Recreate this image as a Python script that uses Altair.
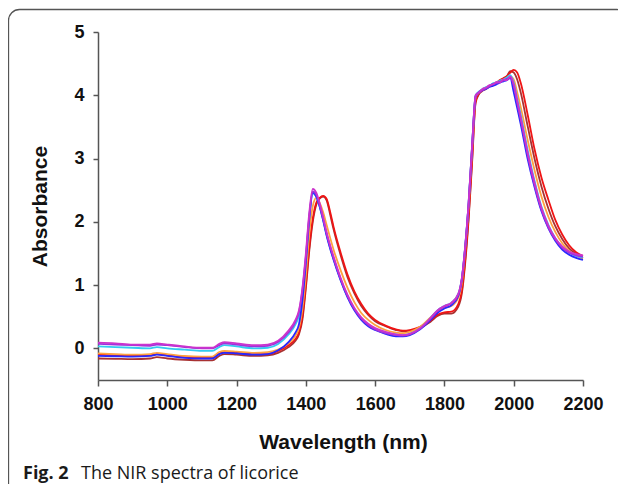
import altair as alt
import pandas as pd

# Wavelength grid (nm)
wavelength = [800, 850, 900, 950, 970, 1000, 1050, 1100, 1130, 1150,
              1165, 1200, 1250, 1290, 1320, 1350, 1370, 1380, 1390, 1400,
              1410, 1420, 1430, 1440, 1450, 1460, 1470, 1480, 1500, 1520,
              1540, 1560, 1580, 1600, 1630, 1660, 1680, 1700, 1730, 1760,
              1780, 1800, 1820, 1840, 1850, 1860, 1870, 1880, 1890, 1900,
              1910, 1920, 1930, 1940, 1950, 1960, 1970, 1980, 1990, 2000,
              2010, 2020, 2040, 2060, 2080, 2100, 2120, 2140, 2160, 2180,
              2200]

dark_red = [-0.16, -0.165, -0.17, -0.16, -0.14, -0.16, -0.18, -0.19, -0.19, -0.12,
            -0.09, -0.10, -0.12, -0.11, -0.07, 0.02, 0.12, 0.22, 0.45, 0.95,
            1.55, 2.00, 2.27, 2.37, 2.40, 2.34, 2.12, 1.88, 1.48, 1.13,
            0.87, 0.67, 0.53, 0.43, 0.35, 0.29, 0.27, 0.28, 0.33, 0.42,
            0.51, 0.55, 0.55, 0.66, 0.86, 1.35, 2.05, 2.95, 3.88, 4.02,
            4.07, 4.10, 4.14, 4.17, 4.19, 4.23, 4.26, 4.30, 4.38, 4.36,
            4.25, 4.05, 3.52, 3.00, 2.56, 2.21, 1.93, 1.73, 1.58, 1.49,
            1.43]

red = [-0.10, -0.11, -0.12, -0.11, -0.09, -0.11, -0.14, -0.15, -0.15, -0.08,
       -0.06, -0.07, -0.09, -0.09, -0.04, 0.05, 0.15, 0.25, 0.50, 1.00,
       1.60, 2.05, 2.30, 2.38, 2.41, 2.36, 2.16, 1.92, 1.52, 1.17,
       0.90, 0.70, 0.55, 0.45, 0.36, 0.30, 0.28, 0.29, 0.34, 0.44,
       0.53, 0.57, 0.58, 0.70, 0.90, 1.40, 2.10, 3.00, 3.90, 4.03,
       4.08, 4.11, 4.15, 4.18, 4.20, 4.24, 4.27, 4.30, 4.36, 4.40,
       4.36, 4.20, 3.70, 3.15, 2.70, 2.35, 2.03, 1.80, 1.63, 1.52,
       1.46]

orange = [-0.08, -0.09, -0.10, -0.09, -0.07, -0.09, -0.12, -0.13, -0.13, -0.06,
          -0.04, -0.05, -0.07, -0.06, -0.02, 0.08, 0.20, 0.32, 0.62, 1.15,
          1.82, 2.25, 2.38, 2.30, 2.15, 1.95, 1.75, 1.56, 1.24, 0.96,
          0.73, 0.56, 0.45, 0.37, 0.29, 0.25, 0.24, 0.26, 0.34, 0.49,
          0.59, 0.64, 0.67, 0.80, 1.02, 1.55, 2.25, 3.15, 3.96, 4.05,
          4.09, 4.12, 4.14, 4.17, 4.19, 4.22, 4.24, 4.27, 4.30, 4.25,
          4.05, 3.82, 3.30, 2.82, 2.40, 2.08, 1.84, 1.66, 1.54, 1.47,
          1.42]

cyan = [0.03, 0.02, 0.01, 0.00, 0.02, 0.00, -0.02, -0.04, -0.04, 0.02,
        0.05, 0.03, 0.00, 0.01, 0.07, 0.22, 0.38, 0.52, 0.88, 1.42,
        2.08, 2.45, 2.40, 2.24, 2.03, 1.79, 1.59, 1.41, 1.09, 0.82,
        0.62, 0.47, 0.37, 0.31, 0.25, 0.22, 0.21, 0.23, 0.32, 0.48,
        0.60, 0.67, 0.72, 0.86, 1.10, 1.62, 2.32, 3.22, 4.00, 4.06,
        4.10, 4.13, 4.15, 4.19, 4.20, 4.23, 4.25, 4.28, 4.32, 4.20,
        3.95, 3.70, 3.14, 2.65, 2.24, 1.95, 1.74, 1.60, 1.51, 1.46,
        1.44]

blue = [-0.12, -0.125, -0.13, -0.12, -0.10, -0.12, -0.15, -0.16, -0.16, -0.09,
        -0.07, -0.08, -0.10, -0.09, -0.03, 0.10, 0.25, 0.38, 0.75, 1.35,
        2.05, 2.46, 2.40, 2.24, 2.02, 1.78, 1.58, 1.40, 1.08, 0.81,
        0.60, 0.45, 0.35, 0.29, 0.23, 0.19, 0.19, 0.21, 0.30, 0.45,
        0.56, 0.63, 0.68, 0.83, 1.08, 1.60, 2.30, 3.20, 3.98, 4.05,
        4.08, 4.10, 4.13, 4.15, 4.17, 4.20, 4.22, 4.24, 4.27, 4.05,
        3.80, 3.55, 3.00, 2.55, 2.17, 1.90, 1.70, 1.56, 1.48, 1.43,
        1.40]

purple = [0.07, 0.06, 0.05, 0.04, 0.06, 0.05, 0.02, 0.00, 0.00, 0.05,
          0.08, 0.06, 0.03, 0.04, 0.10, 0.25, 0.42, 0.57, 0.92, 1.45,
          2.10, 2.48, 2.43, 2.26, 2.05, 1.81, 1.61, 1.43, 1.10, 0.83,
          0.62, 0.47, 0.37, 0.30, 0.24, 0.21, 0.20, 0.22, 0.31, 0.47,
          0.59, 0.66, 0.71, 0.85, 1.09, 1.60, 2.30, 3.20, 3.98, 4.04,
          4.08, 4.11, 4.14, 4.18, 4.19, 4.22, 4.23, 4.26, 4.28, 4.15,
          3.88, 3.62, 3.06, 2.58, 2.19, 1.91, 1.72, 1.59, 1.51, 1.47,
          1.45]

magenta = [0.09, 0.08, 0.06, 0.06, 0.08, 0.06, 0.03, 0.01, 0.01, 0.07,
           0.10, 0.08, 0.05, 0.06, 0.12, 0.28, 0.45, 0.60, 0.95, 1.50,
           2.15, 2.52, 2.46, 2.29, 2.07, 1.83, 1.63, 1.45, 1.12, 0.85,
           0.64, 0.49, 0.39, 0.32, 0.26, 0.22, 0.21, 0.23, 0.32, 0.48,
           0.60, 0.67, 0.72, 0.86, 1.10, 1.62, 2.32, 3.22, 4.00, 4.05,
           4.10, 4.12, 4.16, 4.17, 4.21, 4.20, 4.25, 4.24, 4.30, 4.18,
           3.92, 3.66, 3.10, 2.62, 2.22, 1.94, 1.74, 1.61, 1.53, 1.49,
           1.47]

series_names = ["s1", "s2", "s3", "s4", "s5", "s6", "s7"]
series_values = [dark_red, red, orange, cyan, blue, purple, magenta]
series_colors = ["#A83232", "#F01414", "#FFA040", "#33CCF0", "#2828FF", "#9933DD", "#CC33CC"]

x_ticks = [800, 1000, 1200, 1400, 1600, 1800, 2000, 2200]
y_ticks = [0, 1, 2, 3, 4, 5]

rows = []
for name, vals in zip(series_names, series_values):
    for w, v in zip(wavelength, vals):
        rows.append({"s": name, "wl": w, "abs": v})
df = pd.DataFrame(rows)

W, H = 485, 348

lines = alt.Chart(df).mark_line(strokeWidth=1.8, interpolate="monotone").encode(
    x=alt.X("wl:Q",
            scale=alt.Scale(domain=[800, 2200], nice=False, zero=False),
            axis=alt.Axis(values=x_ticks, format="d", grid=False, tickSize=6,
                          labelPadding=9, labelFontSize=18, labelFontWeight="bold",
                          labelFlush=False,
                          title="Wavelength (nm)", titleFontSize=21, titleFontWeight="bold",
                          titleY=68, titleX=245, titleBaseline="alphabetic")),
    y=alt.Y("abs:Q",
            scale=alt.Scale(domain=[-0.5, 5], nice=False, zero=False),
            axis=alt.Axis(values=y_ticks, format="d", grid=False, tickSize=5,
                          labelPadding=9, labelFontSize=18, labelFontWeight="bold",
                          title="Absorbance", titleFontSize=21, titleFontWeight="bold",
                          titleX=-58, titleY=H / 2, titleBaseline="middle", titleAlign="center",
                          titleAngle=270)),
    color=alt.Color("s:N", scale=alt.Scale(domain=series_names, range=series_colors), legend=None),
    detail="s:N",
)

border = alt.Chart(pd.DataFrame({"k": [0]})).mark_rect(
    fillOpacity=0, stroke="#555555", strokeWidth=1.3, cornerRadius=11
).encode(
    x=alt.value(-89.5), x2=alt.value(W + 45), y=alt.value(-22.5), y2=alt.value(H + 140)
)

cap_bold = alt.Chart(pd.DataFrame({"t": ["Fig. 2"]})).mark_text(
    font="Open Sans", fontSize=18, fontWeight="bold", align="left", baseline="alphabetic", color="#1a1a1a"
).encode(text="t:N", x=alt.value(-75), y=alt.value(447))

cap_text = alt.Chart(pd.DataFrame({"t": ["The NIR spectra of licorice"]})).mark_text(
    font="Open Sans", fontSize=18, align="left", baseline="alphabetic", color="#1a1a1a"
).encode(text="t:N", x=alt.value(-17), y=alt.value(447))

chart = alt.layer(border, lines, cap_bold, cap_text).properties(
    width=W, height=H,
    autosize=alt.AutoSizeParams(type="none"),
    padding={"left": 90, "top": 24, "right": 35, "bottom": 104},
).configure_view(stroke=None).configure_axis(
    labelFont="Liberation Sans", titleFont="Liberation Sans",
    labelColor="#111111", titleColor="#111111",
    domainColor="#555555", tickColor="#555555", domainWidth=1.5, tickWidth=1.5,
)

chart.save("out.html", embed_options={"renderer": "svg", "actions": False})
